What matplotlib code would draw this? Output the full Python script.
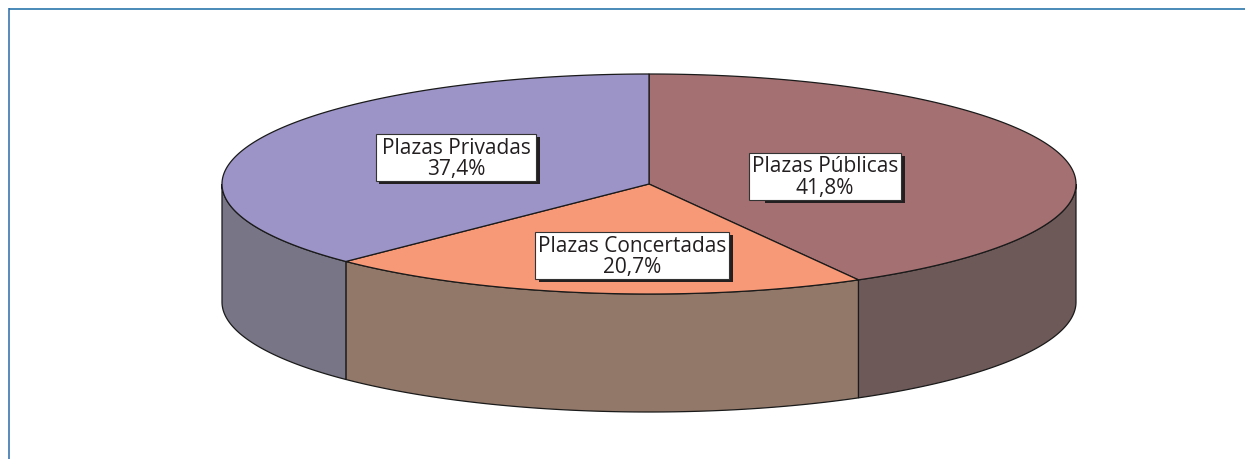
import numpy as np
import matplotlib
matplotlib.use("Agg")
import matplotlib.pyplot as plt
from matplotlib.patches import Polygon, Rectangle

labels = ["Plazas Públicas", "Plazas Concertadas", "Plazas Privadas"]
values = [41.8, 20.7, 37.4]
value_labels = ["41,8%", "20,7%", "37,4%"]
top_colors = ["#A57072", "#F79877", "#9C93C6"]
side_colors = ["#6C5958", "#927868", "#777586"]

W, H = 1245, 459
fig = plt.figure(figsize=(W / 100, H / 100), dpi=100, facecolor="white")
ax = fig.add_axes([0, 0, 1, 1])
ax.set_xlim(0, W)
ax.set_ylim(H, 0)
ax.axis("off")
plt.rcParams["font.family"] = ["Open Sans", "DejaVu Sans"]

cx, cy, a, b, depth = 649, 184, 427, 110, 118


def pt(frac, dy=0.0):
    t = 2 * np.pi * np.asarray(frac)
    return np.column_stack([cx + a * np.sin(t), cy - b * np.cos(t) + dy])


# frame: top and left rules only
ax.plot([9, W], [9, 9], color="#4A8AB8", lw=1.4, solid_capstyle="butt")
ax.plot([9, 9], [8, H], color="#2A6AA8", lw=1.1, solid_capstyle="butt")

edges = np.cumsum([0] + values) / sum(values)

# side walls: only the part of each slice on the front half of the ellipse
for i in range(len(values)):
    lo = max(edges[i], 0.25)
    hi = min(edges[i + 1], 0.75)
    if hi <= lo:
        continue
    f = np.linspace(lo, hi, 120)
    poly = np.vstack([pt(f), pt(f[::-1], depth)])
    ax.add_patch(Polygon(poly, closed=True, fc=side_colors[i], ec="#1A1A1A", lw=0.9, zorder=2))

# top faces
for i in range(len(values)):
    f = np.linspace(edges[i], edges[i + 1], 240)
    poly = np.vstack([[cx, cy], pt(f)])
    ax.add_patch(Polygon(poly, closed=True, fc=top_colors[i], ec="#1A1A1A", lw=0.9, zorder=3))

# label boxes: (left, top, right, bottom, shadow left) in pixels
boxes = [(749, 153, 901, 200, 765), (535, 232, 729, 279, 539), (376, 134, 536, 181, 379)]
for (l, t, r, bt, sl), name, val in zip(boxes, labels, value_labels):
    ax.add_patch(Rectangle((sl, t + 3), r + 4 - sl, bt - t, fc="#231F20", ec="none", zorder=4))
    ax.add_patch(Rectangle((l, t), r - l, bt - t, fc="white", ec="#333333", lw=0.8, zorder=5))
    xc = (l + r) / 2
    ax.text(xc, t + 14, name, ha="center", va="center", fontsize=15, color="#231F20", zorder=6)
    ax.text(xc, t + 35.5, val, ha="center", va="center", fontsize=15, color="#231F20", zorder=6)

fig.savefig("out.png", dpi=100, facecolor="white")
